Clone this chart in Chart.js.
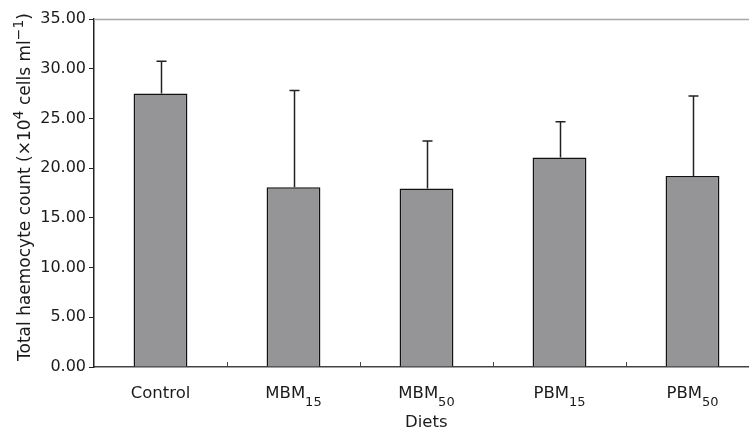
<!DOCTYPE html>
<html><head><meta charset="utf-8">
<script src="https://cdn.jsdelivr.net/npm/chart.js@4/dist/chart.umd.min.js"></script>
<style>html,body{margin:0;padding:0;background:#fff;overflow:hidden}#w{width:760px;height:428px}</style>
</head><body><div id="w"><canvas id="c"></canvas></div>
<script>
const categories = ["Control", "MBM\u2081\u2085", "MBM\u2085\u2080", "PBM\u2081\u2085", "PBM\u2085\u2080"];
const means = [27.5, 18.07, 17.96, 21.08, 19.22];
const errors = [3.25, 9.73, 4.77, 3.58, 8.04];
const yTicks = [0, 5, 10, 15, 20, 25, 30, 35];
const yTitle = "Total haemocyte count (\u00d710\u2074 cells ml\u207b\u00b9)";
const xTitle = "Diets";

const F = "'DejaVu Sans', Verdana, sans-serif";
const SUB = {'\u2080':'0','\u2081':'1','\u2082':'2','\u2083':'3','\u2084':'4','\u2085':'5','\u2086':'6','\u2087':'7','\u2088':'8','\u2089':'9'};
const SUP = {'\u2070':'0','\u00b9':'1','\u00b2':'2','\u00b3':'3','\u2074':'4','\u2075':'5','\u2076':'6','\u2077':'7','\u2078':'8','\u2079':'9','\u207b':'\u2212'};

function parseRuns(s) {
  const out = [];
  for (const ch of s) {
    let t = 'n', c = ch;
    if (SUB[ch]) { t = 'sub'; c = SUB[ch]; } else if (SUP[ch]) { t = 'sup'; c = SUP[ch]; }
    if (out.length && out[out.length - 1].t === t) out[out.length - 1].s += c; else out.push({ t, s: c });
  }
  return out;
}
function drawRich(ctx, str, cx, baseY, size, color) {
  const runs = parseRuns(str);
  const small = Math.round(size * 0.8);
  let total = 0;
  runs.forEach(r => { ctx.font = (r.t === 'n' ? size : small) + 'px ' + F; r.w = ctx.measureText(r.s).width; total += r.w; });
  let x = cx - total / 2;
  ctx.fillStyle = color; ctx.textAlign = 'left'; ctx.textBaseline = 'alphabetic';
  runs.forEach(r => {
    ctx.font = (r.t === 'n' ? size : small) + 'px ' + F;
    const dy = r.t === 'sub' ? size * 0.5 : r.t === 'sup' ? -size * 0.42 : 0;
    ctx.fillText(r.s, x, baseY + dy);
    x += r.w;
  });
}

const deco = {
  id: 'deco',
  afterDatasetsDraw(chart) {
    const ctx = chart.ctx, a = chart.chartArea, x = chart.scales.x, y = chart.scales.y;
    ctx.save();
    ctx.strokeStyle = '#a8a8a8'; ctx.lineWidth = 1.5;
    ctx.beginPath(); ctx.moveTo(a.left, a.top + 0.5); ctx.lineTo(a.right, a.top + 0.5); ctx.stroke();
    ctx.strokeStyle = '#444'; ctx.lineWidth = 1;
    for (let i = 1; i < categories.length; i++) {
      const px = Math.round((x.getPixelForValue(i - 1) + x.getPixelForValue(i)) / 2) + 0.5;
      ctx.beginPath(); ctx.moveTo(px, a.bottom); ctx.lineTo(px, a.bottom - 5); ctx.stroke();
    }
    ctx.strokeStyle = '#222'; ctx.lineWidth = 1.5;
    means.forEach((m, i) => {
      const px = Math.round(x.getPixelForValue(i)) + 0.5;
      const y0 = y.getPixelForValue(m), y1 = y.getPixelForValue(m + errors[i]);
      ctx.beginPath(); ctx.moveTo(px, y0); ctx.lineTo(px, y1);
      ctx.moveTo(px - 5, y1); ctx.lineTo(px + 5, y1); ctx.stroke();
    });
    // category labels with subscripts
    categories.forEach((c, i) => drawRich(ctx, c, x.getPixelForValue(i), a.bottom + 31, 16.5, '#1a1a1a'));
    drawRich(ctx, xTitle, (a.left + x.getPixelForValue(categories.length - 1) + 66) / 2 - 0, 427, 16.5, '#1a1a1a');
    // y title rotated
    ctx.save();
    ctx.translate(30, 187);
    ctx.rotate(-Math.PI / 2);
    drawRich(ctx, yTitle, 0, 0, 17, '#1a1a1a');
    ctx.restore();
    ctx.restore();
  }
};

new Chart(document.getElementById('c'), {
  type: 'bar',
  data: { labels: categories, datasets: [{ data: means, backgroundColor: '#959598', borderColor: '#111', borderWidth: 1.5, barPercentage: 0.405, categoryPercentage: 1 }] },
  options: {
    responsive: true, maintainAspectRatio: false, animation: false,
    layout: { padding: { left: 0, right: 1, top: 19, bottom: 0 } },
    plugins: { legend: { display: false }, tooltip: { enabled: false } },
    scales: {
      x: {
        grid: { display: false },
        border: { display: true, color: '#444', width: 1.5 },
        ticks: { display: false },
        afterFit(s) { s.height = 61; }
      },
      y: {
        min: 0, max: 35,
        afterBuildTicks(s) { s.ticks = yTicks.map(v => ({ value: v })); },
        grid: { drawOnChartArea: false, tickLength: 5, color: '#222' },
        border: { display: true, color: '#222', width: 1.5 },
        ticks: { color: '#1a1a1a', font: { family: F, size: 16 }, padding: 3, callback: v => Number(v).toFixed(2) },
        afterFit(s) { s.width = 94; }
      }
    }
  },
  plugins: [deco]
});
</script></body></html>
